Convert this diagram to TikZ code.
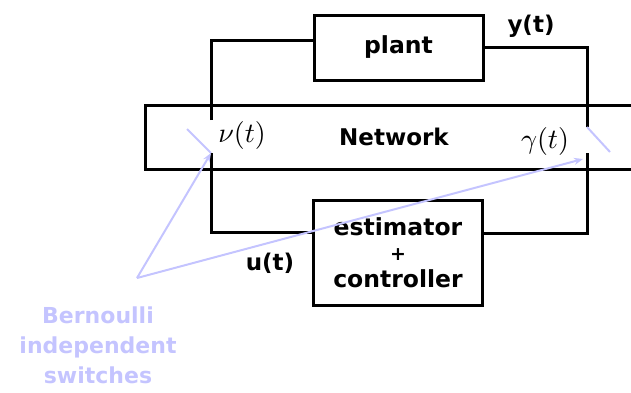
\documentclass[tikz,border=0pt]{standalone}
\usepackage{fontspec}
\setsansfont{DejaVu Sans}
\usetikzlibrary{arrows.meta}
\definecolor{lilac}{RGB}{196,196,255}
\begin{document}
\begin{tikzpicture}[x=1pt,y=-1pt,line width=3pt,
    box/.style={draw,minimum width=169pt,inner sep=0pt,align=center,
      font=\sffamily\bfseries\fontsize{23.5}{30}\selectfont},
    lbl/.style={inner sep=0pt,font=\sffamily\bfseries\fontsize{23}{30}\selectfont},
    mlbl/.style={inner sep=0pt,scale=2.8},
    sw/.style={draw=lilac,line width=2pt}]
    \useasboundingbox (0,0) rectangle (631,392);
    % blocks
    \node (plant) [box,minimum height=65pt] at (398.5,47.5) {plant};
    \node (est) [box,minimum height=105pt] at (398,252.5)
      {estimator\\[-5pt]{\fontsize{19}{20}\selectfont +}\\[-3pt]controller};
    \draw (631,105) -| (145,169) -- (631,169);
    \node (net) [lbl] at (394,137) {Network};
    \node (nu) [mlbl] at (242,135) {$\nu(t)$};
    \node (gam) [mlbl] at (545,141) {$\gamma(t)$};
    \node (y) [lbl] at (531,26) {y(t)};
    \node (u) [lbl] at (270,263) {u(t)};
    % loop
    \coordinate (lt) at (211,40);
    \coordinate (lb) at (211,232);
    \coordinate (rb) at (587,233);
    \coordinate (lgap1) at (211,120);
    \coordinate (lgap2) at (211,153);
    \coordinate (rgap1) at (587,127);
    \coordinate (rgap2) at (587,153);
    \draw (lgap1) -- (lt) -- (plant.west |- lt);
    \draw (plant.east) -| (rgap1);
    \draw (lgap2) -- (lb) -- (est.west |- lb);
    \draw (est.east |- rb) -- (rb) -- (rgap2);
    % switches
    \coordinate (lsw) at (187,129);
    \coordinate (rsw) at (610,152);
    \draw[sw] (lgap2) -- (lsw);
    \draw[sw] (rgap1) -- (rsw);
    \coordinate (src) at (137,278);
    \coordinate (rtip) at (583,159);
    \draw[sw,-{Stealth[length=9pt,width=7pt]}] (src) -- (lgap2);
    \draw[sw,-{Stealth[length=9pt,width=7pt]}] (src) -- (rtip);
    \node (bern) [lbl,text=lilac,align=center,font=\sffamily\bfseries\fontsize{22}{30}\selectfont]
      at (98,345) {Bernoulli\\independent\\switches};
\end{tikzpicture}
\end{document}
